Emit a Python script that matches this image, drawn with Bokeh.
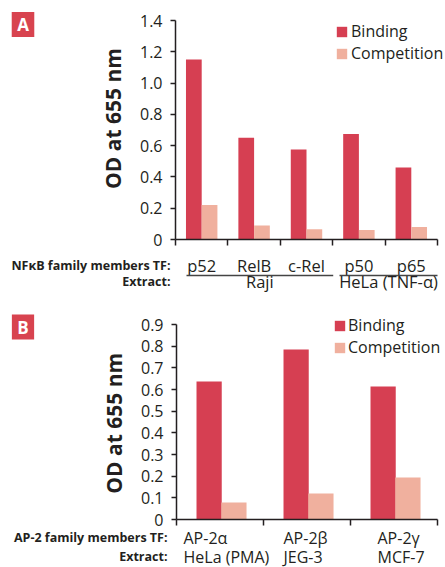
import math
from bokeh.plotting import figure
from bokeh.models import (ColumnDataSource, FixedTicker, CustomJSTickFormatter, Label,
                          Arrow, Legend, LegendItem, Range1d)
from bokeh.layouts import column
from bokeh.embed import file_html
from bokeh.resources import INLINE

# ---------------- data ----------------
a_factors = ["p52", "RelB", "c-Rel", "p50", "p65"]
a_binding = [1.15, 0.65, 0.575, 0.675, 0.46]
a_competition = [0.22, 0.09, 0.065, 0.06, 0.08]
a_extracts = ["Raji", "HeLa (TNF-\u03b1)"]
a_extract_groups = [(0, 3), (3, 5)]
a_yticks = [0, 0.2, 0.4, 0.6, 0.8, 1.0, 1.2, 1.4]
a_row_label = "NF\u03baB family members TF:"

b_factors = ["AP-2\u03b1", "AP-2\u03b2", "AP-2\u03b3"]
b_extracts = ["HeLa (PMA)", "JEG-3", "MCF-7"]
b_binding = [0.637, 0.785, 0.614]
b_competition = [0.078, 0.12, 0.194]
b_yticks = [0, 0.1, 0.2, 0.3, 0.4, 0.5, 0.6, 0.7, 0.8, 0.9]
b_row_label = "AP-2 family members TF:"

series_names = ["Binding", "Competition"]

# ---------------- style ----------------
FONT = "Open Sans"
TEXT = "#231f20"
RED = "#d63f52"
PINK = "#f0b09e"
BOX = "#d8434f"
W = 445
BASE_SHIFT = 4  # baseline correction for alphabetic labels


class Panel:
    """A figure whose frame fills the whole canvas; axes are pinned at 0."""

    def __init__(self, height, n, ymax, yticks, ax_left, ax_right, y0_px, ytop_px):
        self.h = height
        self.gw = (ax_right - ax_left) / n          # px per group
        self.ppu = (y0_px - ytop_px) / ymax          # px per y unit
        self.ax_left = ax_left
        self.y0_px = y0_px
        xr = Range1d(-ax_left / self.gw, (W - ax_left) / self.gw)
        yr = Range1d((y0_px - height) / self.ppu, y0_px / self.ppu)
        p = figure(width=W, height=height, x_range=xr, y_range=yr,
                   output_backend="svg", toolbar_location=None, min_border=0)
        p.outline_line_color = None
        p.xgrid.grid_line_color = None
        p.ygrid.grid_line_color = None
        p.background_fill_color = "white"
        p.border_fill_color = "white"

        xa = p.xaxis[0]
        xa.fixed_location = 0
        xa.bounds = (0, n)
        xa.ticker = FixedTicker(ticks=list(range(n + 1)))
        xa.formatter = CustomJSTickFormatter(code="return '';")
        xa.major_tick_in = 0
        xa.major_tick_out = 6
        xa.minor_tick_in = 0
        xa.minor_tick_out = 0
        xa.axis_line_color = TEXT
        xa.axis_line_width = 1.5
        xa.major_tick_line_color = TEXT
        xa.major_tick_line_width = 1.5

        ya = p.yaxis[0]
        ya.fixed_location = 0
        ya.bounds = (0, ymax)
        ya.ticker = FixedTicker(ticks=yticks)
        ya.formatter = CustomJSTickFormatter(code="return tick == 0 ? '0' : tick.toFixed(1);")
        ya.major_tick_in = 0
        ya.major_tick_out = 5
        ya.minor_tick_in = 0
        ya.minor_tick_out = 0
        ya.major_label_standoff = 8
        ya.major_label_text_font = FONT
        ya.major_label_text_font_size = "16px"
        ya.major_label_text_color = TEXT
        ya.axis_line_color = TEXT
        ya.axis_line_width = 1.5
        ya.major_tick_line_color = TEXT
        ya.major_tick_line_width = 1.5
        self.p = p

    # page-pixel helpers (relative to this figure's top-left)
    def sy(self, page_y):
        return self.h - page_y

    def text(self, x, page_y, text, xu="screen", align="left", size="16px",
             bold=False, color=TEXT, baseline="alphabetic", angle=0):
        if baseline == "alphabetic":
            page_y -= BASE_SHIFT
        self.p.add_layout(Label(x=x, y=self.sy(page_y), x_units=xu, y_units="screen",
                                text=text, text_align=align, text_baseline=baseline,
                                text_font=FONT, text_font_size=size,
                                text_font_style="bold" if bold else "normal",
                                text_color=color, angle=angle, angle_units="deg"))

    def bars(self, binding, competition, xb, xc, w, leg_x, leg_top, standoff):
        n = len(binding)
        src = ColumnDataSource(dict(
            xb=[i + xb for i in range(n)], xc=[i + xc for i in range(n)],
            b=binding, c=competition))
        rb = self.p.vbar(x="xb", top="b", width=w, bottom=0, source=src,
                         fill_color=RED, line_color=None)
        rc = self.p.vbar(x="xc", top="c", width=w, bottom=0, source=src,
                         fill_color=PINK, line_color=None)
        leg = Legend(items=[LegendItem(label=series_names[0], renderers=[rb]),
                            LegendItem(label=series_names[1], renderers=[rc])],
                     location=(leg_x, self.sy(leg_top + 44)),
                     glyph_width=13, glyph_height=13,
                     label_height=20, spacing=0, padding=0, margin=0,
                     border_line_color=None, background_fill_alpha=0,
                     label_text_font=FONT, label_text_font_size="16px",
                     label_text_color=TEXT, label_standoff=standoff)
        self.p.add_layout(leg)

    def tag(self, cx, cy, letter):
        self.p.add_layout(Label(x=cx, y=self.sy(cy), x_units="screen", y_units="screen",
                                text="\u00a0" + letter + "\u00a0",
                                text_align="center", text_baseline="middle",
                                text_font=FONT, text_font_size="17px",
                                text_font_style="bold",
                                text_color="white", background_fill_color=BOX,
                                padding=1))


# ---------------- panel A (page y 0..300) ----------------
A = Panel(300, len(a_factors), 1.4, a_yticks, ax_left=175, ax_right=437, y0_px=239, ytop_px=20)
A.bars(a_binding, a_competition, 0.35, 0.65, 0.30, leg_x=335, leg_top=20, standoff=3)
A.tag(22.5, 24, "A")
A.text(112, 118, "OD at 655 nm", align="center", baseline="middle", size="21px",
       bold=True, angle=90)
A.text(170, 269, a_row_label, align="right", size="12.5px", bold=True)
for i, f in enumerate(a_factors):
    A.text(i + 0.5, 269, f, xu="data", align="center", size="16.5px")
A.text(170, 285, "Extract:", align="right", size="12.5px", bold=True)
for (g0, g1), name in zip(a_extract_groups, a_extracts):
    x0 = g0 + (0.21 if g0 == 0 else 0.13)
    x1 = g1 + (0.01 if g1 < len(a_factors) else 0.0)
    yl = (A.y0_px - 275) / A.ppu
    A.p.add_layout(Arrow(end=None, x_start=x0, x_end=x1, y_start=yl, y_end=yl,
                         line_color="#444444", line_width=1.5))
    A.text((x0 + x1) / 2, 285, name, xu="data", align="center", size="16.5px")

# ---------------- panel B (page y 300..567) ----------------
B = Panel(267, len(b_factors), 0.9, b_yticks, ax_left=176, ax_right=437, y0_px=219, ytop_px=24)
B.bars(b_binding, b_competition, 0.375, 0.66, 0.29, leg_x=333, leg_top=14, standoff=2)
B.tag(22.5, 26.5, "B")
B.text(113, 120, "OD at  655 nm", align="center", baseline="middle", size="21px",
       bold=True, angle=90)
B.text(167, 241, b_row_label, align="right", size="12.5px", bold=True)
B.text(167, 260, "Extract:", align="right", size="12.5px", bold=True)
b_label_px = [183, 283, 377]
for xpx, f, e in zip(b_label_px, b_factors, b_extracts):
    B.text(xpx, 241, f)
    B.text(xpx, 260, e)

layout = column(A.p, B.p, spacing=0)
open("out.html", "w").write(file_html(layout, INLINE))
